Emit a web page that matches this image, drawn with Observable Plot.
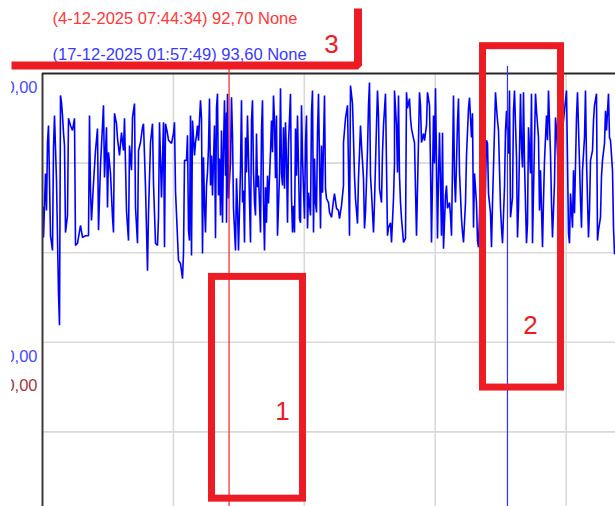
<!DOCTYPE html>
<html><head><meta charset="utf-8">
<script src="https://cdn.jsdelivr.net/npm/d3@7"></script>
<script src="https://cdn.jsdelivr.net/npm/@observablehq/plot@0.6"></script>
<style>
body{margin:0;background:#fff;}
#wrap{position:relative;width:615px;height:506px;overflow:hidden;background:#fff;}
#mask{position:absolute;left:0;top:0;width:11px;height:506px;background:#fff;}
</style></head><body><div id="wrap"><div id="chart"></div><div id="mask"></div></div>
<script>
// ---- data ----
const startTime = "2025-11-25T18:30:00Z";
const sampleMinutes = 66;
const sampleCount = 573;
// [sample index, value]
const samples = [[1,70.1],[1,63.4],[3,77.7],[4,69.4],[5,84.6],[6,88.4],[8,63.8],[10,60.5],[11,83.3],[12,90.6],[14,76.1],[16,50.9],[17,43.8],[18,95.1],[19,93.5],[20,90.6],[21,86.8],[22,83.9],[23,64.5],[25,68.3],[26,90.0],[28,88.4],[30,87.3],[32,90.0],[33,61.6],[35,62.1],[38,66.1],[40,63.4],[43,63.8],[46,63.8],[47,90.6],[48,73.9],[49,67.2],[51,75.5],[53,82.8],[55,87.7],[56,65.0],[58,79.5],[60,88.4],[61,92.9],[62,76.8],[64,88.0],[65,70.1],[66,82.4],[68,77.7],[70,67.9],[71,64.5],[72,91.1],[74,88.8],[75,85.5],[77,81.7],[79,86.8],[81,82.8],[82,90.0],[84,69.4],[86,62.7],[87,83.9],[89,78.4],[90,90.2],[92,93.3],[93,70.1],[95,62.1],[96,82.8],[98,84.6],[100,88.0],[101,88.8],[103,74.6],[105,56.0],[106,68.8],[108,84.6],[110,88.8],[111,75.5],[113,62.1],[115,61.6],[116,67.9],[117,89.1],[119,72.3],[121,89.1],[122,61.2],[123,88.8],[125,86.6],[126,85.1],[129,84.4],[131,86.6],[132,89.1],[133,73.9],[135,63.4],[136,58.3],[138,57.6],[140,54.2],[141,59.8],[142,80.6],
[144,80.6],[145,86.2],[146,65.0],[147,62.7],[148,90.6],[149,59.4],[150,89.5],[152,81.7],[153,84.6],[154,86.2],[155,88.4],[156,85.0],[158,94.0],[159,90.0],[160,59.8],[161,81.3],[162,70.5],[163,64.5],[164,75.0],[165,77.9],[166,83.5],[167,94.4],[168,75.0],[169,81.7],[170,72.8],[172,88.4],[173,63.2],[174,92.4],[175,95.5],[176,72.8],[177,81.0],[178,68.3],[179,87.3],[180,66.7],[181,83.3],[182,94.0],[183,77.2],[184,91.3],[184,66.7],[185,95.5],[186,72.1],[188,80.1],[189,94.7],[190,86.2],[191,69.9],[193,60.5],[194,76.6],[195,69.9],[196,60.5],[198,78.8],[199,94.0],[200,71.2],[201,73.9],[202,62.3],[203,85.7],[204,77.9],[205,90.6],[207,71.7],[208,62.3],[209,89.5],[210,94.0],[211,77.9],[212,71.2],[213,68.3],[214,86.6],[215,74.6],[216,77.2],[218,64.5],[219,87.3],[220,94.0],[221,71.2],[222,60.5],[223,74.6],[224,66.7],[225,77.2],[226,71.0],[228,82.4],[229,89.5],[230,82.4],[231,95.1],[232,89.5],[233,76.6],[234,90.6],[235,63.8],[237,77.2],[238,96.7],[239,77.9],[240,75.0],[241,88.0],[242,74.3],[243,89.1],[244,81.0],[245,66.7],[246,84.4],[248,95.5],[249,72.3],[250,64.5],[251,70.5],[252,64.5],[253,87.7],[254,77.2],[255,90.6],[257,67.6],[258,66.7],[259,92.9],[260,81.0],[262,67.6],[263,84.6],[264,90.6],[265,65.4],[266,73.4],[268,68.3],[269,91.3],[270,96.2],[271,64.5],[272,81.0],[273,71.2],[274,69.0],[275,86.6],[276,95.5],[278,65.4],[279,83.9],[280,73.4],[282,95.1],[283,74.3],[284,72.1],
[286,71.2],[287,69.0],[289,67.9],[291,71.7],[292,73.2],[294,69.9],[296,69.4],[297,67.6],[299,70.5],[301,75.0],[301,84.6],[303,90.0],[305,92.9],[306,78.8],[307,63.8],[308,97.3],[310,93.3],[311,85.5],[312,77.2],[313,72.1],[315,66.5],[316,76.6],[317,82.4],[318,88.4],[319,83.9],[321,76.6],[322,65.4],[323,69.0],[325,82.8],[326,92.9],[327,98.0],[328,77.2],[329,73.4],[331,64.5],[332,71.2],[334,88.4],[335,96.2],[336,90.6],[337,74.3],[339,71.2],[340,82.4],[341,88.4],[343,95.5],[344,79.5],[345,63.8],[346,65.6],[348,66.7],[349,62.3],[351,72.1],[352,80.1],[352,96.2],[354,88.4],[355,77.9],[356,95.1],[357,77.2],[358,71.2],[359,67.6],[361,62.3],[363,63.2],[364,95.8],[365,92.2],[367,94.4],[368,90.0],[369,87.7],[371,85.5],[372,84.6],[374,63.8],[375,74.3],[377,95.8],[378,92.9],[379,84.6],[381,86.6],[382,85.0],[384,88.4],[385,95.8],[387,92.9],[388,79.5],[389,62.3],[391,90.6],[392,79.9],[393,96.7],[395,63.2],[396,77.2],[397,86.8],[399,63.8],[400,86.8],[401,60.9],[403,72.8],[404,75.0],[405,69.9],[407,71.2],[408,68.3],[409,63.8],[411,95.1],[412,76.6],[413,71.2],[415,89.1],[416,94.4],[417,77.9],[419,67.6],[420,64.5],[421,62.3],[423,71.2],[424,81.7],[426,92.2],
[427,94.6],[429,85.7],[430,91.1],[431,65.6],[432,77.7],[434,71.0],[435,62.7],[436,61.2],[439,82.8],[442,65.0],[444,85.1],[445,84.4],[446,73.2],[448,68.8],[449,61.2],[450,71.0],[452,87.3],[453,95.8],[454,92.4],[455,89.5],[456,87.3],[458,70.1],[459,65.6],[460,62.1],[462,74.6],[463,87.3],[464,91.7],[466,82.1],[467,96.2],[468,67.9],[470,72.3],[471,91.7],[472,96.2],[474,81.3],[475,63.4],[476,70.1],[478,95.5],[479,83.5],[480,79.0],[481,95.8],[482,79.9],[484,62.1],[485,66.5],[486,88.0],[488,77.7],[489,95.5],[490,62.1],[492,85.1],[493,95.5],[494,91.7],[496,85.7],[497,69.4],[498,78.4],[500,61.2],[501,71.7],[502,80.6],[504,90.6],[505,85.1],[506,96.2],[508,82.1],[509,71.0],[510,63.4],[512,75.5],[513,90.2],[514,87.3],[517,71.7],[520,87.3],[524,96.2],[525,80.6],[526,64.3],[527,62.1],[528,73.2],[530,65.6],[531,78.4],[532,68.8],[534,90.2],[535,95.8],[536,88.0],[538,71.7],[539,65.6],[540,78.4],[542,85.7],[543,96.2],[544,80.6],[546,63.4],[547,69.4],[548,80.6],[550,82.8],[551,89.5],[552,92.9],[554,95.5],[555,62.7],[556,65.0],[558,67.9],[559,77.1],[560,80.6],[562,84.4],[563,91.7],[564,87.3],[566,95.5],[567,85.7],[568,85.1],[570,78.4],[571,65.6],[572,59.8]];

const gridDates = ["2025-12-01T18:30:00Z","2025-12-07T18:30:00Z","2025-12-13T18:30:00Z","2025-12-19T18:30:00Z"];
const gridValues = [80, 60, 40, 20];
const yDomain = [3.35, 100];

const cursorNames = ["A", "B"];
const cursorTimes = ["2025-12-04T07:44:34Z", "2025-12-17T01:57:49Z"];
const cursorValues = [92.70, 93.60];
const cursorUnits = ["None", "None"];

const axisLabelAxes = ["blue", "blue", "brown"];
const axisLabelValues = [100, 40, 33.4];
const axisLabelTexts = ["100,00", "40,00", "20,00"];

const boxStart = ["2025-12-03T12:58:00Z", "2025-12-15T23:04:00Z"];
const boxEnd   = ["2025-12-07T17:04:00Z", "2025-12-19T12:52:00Z"];
const boxLow   = [5.1, 29.9];
const boxHigh  = [54.6, 106.1];
const bracketTimes  = ["2025-11-24T08:25:00Z", "2025-12-10T05:33:00Z", "2025-12-10T05:33:00Z"];
const bracketValues = [101.8, 101.8, 114.5];
const markTexts  = ["1", "2", "3"];
const markTimes  = ["2025-12-06T18:30:00Z", "2025-12-18T03:18:00Z", "2025-12-09T00:24:00Z"];
const markValues = [24.6, 43.75, 106.5];

// ---- styles ----
const FONT = "Liberation Sans, Arial, sans-serif";
const ANNOT = "#ed1c24";
const cursorColor = {A: "#ff3838", B: "#3a3aff"};
const cursorLine = {A: "#ff2020", B: "#2f2fff"};
const axisColor = {blue: "#4a4aff", brown: "#a3383a"};

// ---- build ----
const t0 = new Date(startTime);
const tAt = i => new Date(t0.getTime() + i * sampleMinutes * 60000);
const series = samples.map(([i, v]) => ({time: tAt(i), value: v}));
const cursors = cursorNames.map((n, k) => ({name: n, time: new Date(cursorTimes[k]), value: cursorValues[k], unit: cursorUnits[k]}));
const fmtT = d3.utcFormat("%-d-%m-%Y %H:%M:%S");
const fmtV = v => d3.format(".2f")(v).replace(".", ",");
const axisLabels = axisLabelTexts.map((t, k) => ({text: t, value: axisLabelValues[k], axis: axisLabelAxes[k]}));
const boxes = boxStart.map((s, k) => ({x1: new Date(s), x2: new Date(boxEnd[k]), y1: boxLow[k], y2: boxHigh[k]}));
const bracket = bracketTimes.map((s, k) => ({time: new Date(s), value: bracketValues[k]}));
const marks = markTexts.map((t, k) => ({text: t, time: new Date(markTimes[k]), value: markValues[k]}));

const chart = Plot.plot({
  width: 615, height: 506,
  marginLeft: 42, marginRight: 0, marginTop: 73, marginBottom: 0,
  x: {type: "utc", domain: [t0, tAt(sampleCount)], axis: null},
  y: {domain: yDomain, axis: null},
  style: {background: "white", fontFamily: FONT, overflow: "visible"},
  marks: [
    Plot.ruleX(gridDates.map(d => new Date(d)), {stroke: "#d9d9d9", strokeWidth: 1.6}),
    Plot.ruleY(gridValues, {stroke: "#d9d9d9", strokeWidth: 1.6}),
    Plot.line(series, {x: "time", y: "value", stroke: "#0000ff", strokeWidth: 1.6, strokeLinejoin: "miter"}),
    Plot.ruleX([t0], {stroke: "#3a3a3a", strokeWidth: 2}),
    Plot.ruleY([yDomain[1]], {stroke: "#2a2a2a", strokeWidth: 2}),
    Plot.ruleX(cursors, {x: "time", stroke: d => cursorLine[d.name], insetTop: -7, strokeWidth: 1.2}),
    Plot.text(axisLabels, {x: () => t0, y: "value", text: "text", textAnchor: "end", dx: -5, dy: 14,
      fill: d => axisColor[d.axis], fontSize: 16.5, fontFamily: FONT}),
    ...cursors.map((c, k) => Plot.text([c], {frameAnchor: "top-left", lineAnchor: "middle", textAnchor: "start",
      dx: 10, dy: k === 0 ? -55 : -19, fontSize: 16.5, fontFamily: FONT, fill: cursorColor[c.name],
      text: d => `(${fmtT(d.time)}) ${fmtV(d.value)} ${d.unit}`})),
    Plot.rect(boxes, {x1: "x1", x2: "x2", y1: "y1", y2: "y2", fill: "none", stroke: ANNOT, strokeWidth: 7}),
    Plot.line(bracket, {x: "time", y: "value", stroke: ANNOT, strokeWidth: 8, strokeLinejoin: "miter", strokeLinecap: "butt"}),
    Plot.text(marks, {x: "time", y: "value", text: "text", fill: ANNOT, fontSize: 26, fontFamily: FONT})
  ]
});
document.getElementById("chart").appendChild(chart);
</script></body></html>
